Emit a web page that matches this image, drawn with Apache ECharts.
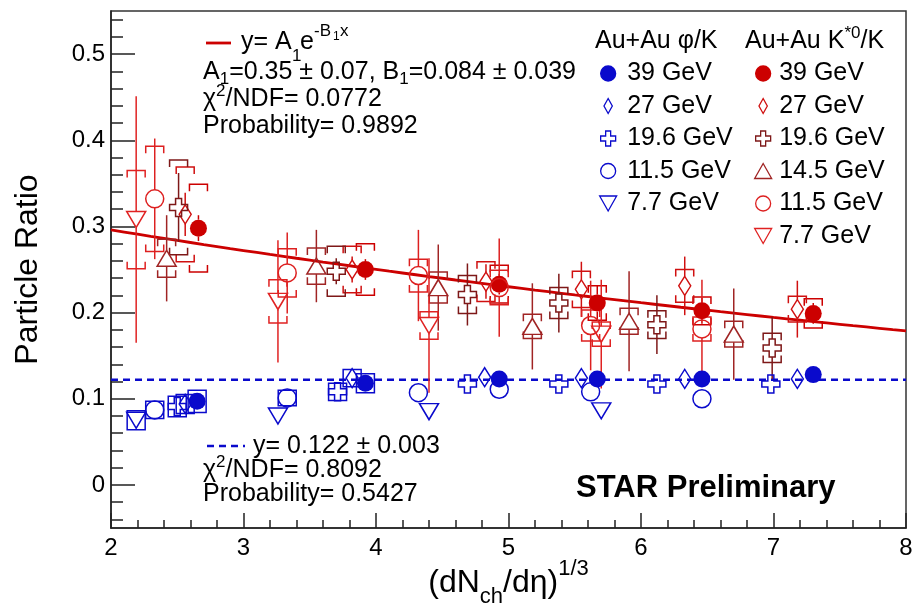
<!DOCTYPE html>
<html>
<head>
<meta charset="utf-8">
<script src="https://cdn.jsdelivr.net/npm/echarts@6.0.0/dist/echarts.min.js"></script>
<style>
  html, body { margin: 0; padding: 0; background: #ffffff; }
  #chart { width: 917px; height: 611px; }
</style>
</head>
<body>
<div id="chart"></div>
<script>
// Rows: [(dNch/deta)^(1/3), ratio, statistical error, systematic error]
const phiK_39 = [[2.65, 0.097, 0.004, 0.013], [3.92, 0.118, 0.003, 0.011], [4.93, 0.123, 0.003, 0], [5.67, 0.123, 0.003, 0], [6.46, 0.123, 0.003, 0], [7.30, 0.128, 0.003, 0]];
const phiK_27 = [[2.56, 0.094, 0.004, 0.011], [3.82, 0.124, 0.003, 0.010], [4.82, 0.125, 0.003, 0], [5.55, 0.124, 0.003, 0], [6.33, 0.123, 0.003, 0], [7.18, 0.123, 0.003, 0]];
const phiK_19 = [[2.50, 0.091, 0.004, 0.012], [3.71, 0.108, 0.003, 0.010], [4.69, 0.117, 0.003, 0], [5.38, 0.117, 0.003, 0], [6.12, 0.117, 0.003, 0], [6.98, 0.117, 0.003, 0]];
const phiK_11 = [[2.33, 0.087, 0.004, 0.010], [3.33, 0.101, 0.003, 0.009], [4.32, 0.107, 0.003, 0], [4.93, 0.111, 0.003, 0], [5.62, 0.108, 0.003, 0], [6.46, 0.100, 0.003, 0]];
const phiK_7 = [[2.19, 0.075, 0.005, 0.011], [3.26, 0.080, 0.004, 0], [4.40, 0.085, 0.004, 0], [5.70, 0.086, 0.004, 0]];

const kstK_39 = [[2.66, 0.298, 0.015, 0.051], [3.92, 0.250, 0.012, 0.030], [4.93, 0.233, 0.012, 0.022], [5.67, 0.211, 0.020, 0.020], [6.46, 0.202, 0.015, 0.016], [7.30, 0.199, 0.012, 0.017]];
const kstK_27 = [[2.56, 0.314, 0.025, 0.055], [3.82, 0.250, 0.015, 0.027], [4.83, 0.236, 0.020, 0.023], [5.55, 0.227, 0.032, 0.021], [6.33, 0.231, 0.034, 0.019], [7.18, 0.204, 0.033, 0.015]];
const kstK_19 = [[2.51, 0.322, 0.040, 0.055], [3.70, 0.248, 0.015, 0.029], [4.69, 0.221, 0.036, 0.022], [5.38, 0.211, 0.034, 0.018], [6.12, 0.186, 0.034, 0.016], [6.99, 0.159, 0.036, 0.017]];
const kstK_14 = [[2.42, 0.263, 0.050, 0.022], [3.55, 0.254, 0.042, 0.021], [4.47, 0.229, 0.050, 0.018], [5.18, 0.184, 0.050, 0.014], [5.91, 0.190, 0.058, 0.015], [6.70, 0.175, 0.053, 0.015]];
const kstK_11 = [[2.33, 0.332, 0.070, 0.061], [3.33, 0.246, 0.047, 0.028], [4.32, 0.243, 0.053, 0.019], [4.93, 0.229, 0.057, 0.020], [5.62, 0.185, 0.052, 0.018], [6.46, 0.181, 0.057, 0.014]];
const kstK_7 = [[2.19, 0.308, 0.143, 0.057], [3.26, 0.213, 0.071, 0.025], [4.40, 0.185, 0.078, 0.016], [5.70, 0.175, 0.063, 0.014]];

// Fit results quoted in the panel
const expFitA = 0.35;
const expFitB = 0.084;
const constFitLevel = 0.122;

// Axis ticks
const yMajorTicks = [0, 0.1, 0.2, 0.3, 0.4, 0.5];
const yMinorTicks = [-0.04, -0.02, 0.02, 0.04, 0.06, 0.08, 0.12, 0.14, 0.16, 0.18, 0.22, 0.24, 0.26, 0.28, 0.32, 0.34, 0.36, 0.38, 0.42, 0.44, 0.46, 0.48, 0.52, 0.54];

const FONT = '"Liberation Sans", Arial, Helvetica, sans-serif';
const BLUE = '#0a0acc';
const RED = '#cc0000';

const SYM = {
  cross: 'path://M1,0 L2,0 L2,1 L3,1 L3,2 L2,2 L2,3 L1,3 L1,2 L0,2 L0,1 L1,1 Z',
  diamond: 'path://M5,0 L10,9 L5,18 L0,9 Z',
  triUp: 'path://M8.5,0 L17,15 L0,15 Z',
  triDown: 'path://M0,0 L17,0 L8.5,15 Z'
};

const groups = [
  { name: 'φ/K 39 GeV', rows: phiK_39, color: BLUE, filled: true, symbol: 'circle', size: 17, half: 8.5, sys: 'box' },
  { name: 'φ/K 27 GeV', rows: phiK_27, color: BLUE, symbol: SYM.diamond, size: [12, 19], half: 9.5, sys: 'box' },
  { name: 'φ/K 19.6 GeV', rows: phiK_19, color: BLUE, symbol: SYM.cross, size: 18, half: 9, sys: 'box' },
  { name: 'φ/K 11.5 GeV', rows: phiK_11, color: BLUE, symbol: 'circle', size: 18, half: 9, sys: 'box' },
  { name: 'φ/K 7.7 GeV', rows: phiK_7, color: BLUE, symbol: SYM.triDown, size: [19, 16], half: 8, sys: 'box' },
  { name: 'K*0/K 39 GeV', rows: kstK_39, color: RED, filled: true, symbol: 'circle', size: 17, half: 8.5, sys: 'bracket' },
  { name: 'K*0/K 27 GeV', rows: kstK_27, color: '#d01010', symbol: SYM.diamond, size: [12, 19], half: 9.5, sys: 'bracket' },
  { name: 'K*0/K 19.6 GeV', rows: kstK_19, color: '#7e1818', symbol: SYM.cross, size: 18, half: 9, sys: 'bracket' },
  { name: 'K*0/K 14.5 GeV', rows: kstK_14, color: '#a02424', symbol: SYM.triUp, size: [19, 16], half: 8, sys: 'bracket' },
  { name: 'K*0/K 11.5 GeV', rows: kstK_11, color: '#dd2020', symbol: 'circle', size: 18, half: 9, sys: 'bracket' },
  { name: 'K*0/K 7.7 GeV', rows: kstK_7, color: '#e02222', symbol: SYM.triDown, size: [19, 16], half: 8, sys: 'bracket' }
];

// Stat bars leave a gap at the marker; systematics as boxes or [ ] brackets
function errorRenderer(color, half, sysStyle) {
  return function (params, api) {
    const x = api.value(0), y = api.value(1), st = api.value(2), sy = api.value(3);
    const c = api.coord([x, y]);
    const ls = { stroke: color, lineWidth: 1.5, fill: 'none' };
    const kids = [];
    if (st > 0) {
      const top = api.coord([x, y + st])[1];
      const bot = api.coord([x, y - st])[1];
      if (c[1] - half > top) kids.push({ type: 'line', shape: { x1: c[0], y1: top, x2: c[0], y2: c[1] - half }, style: ls });
      if (bot > c[1] + half) kids.push({ type: 'line', shape: { x1: c[0], y1: c[1] + half, x2: c[0], y2: bot }, style: ls });
    }
    if (sy > 0) {
      const top = api.coord([x, y + sy])[1];
      const bot = api.coord([x, y - sy])[1];
      if (sysStyle === 'box') {
        const w = 9;
        kids.push({ type: 'rect', shape: { x: c[0] - w, y: top, width: 2 * w, height: bot - top }, style: ls });
      } else {
        const w = 9, t = 7;
        kids.push({ type: 'polyline', shape: { points: [[c[0] - w, top + t], [c[0] - w, top], [c[0] + w, top], [c[0] + w, top + t]] }, style: ls });
        kids.push({ type: 'polyline', shape: { points: [[c[0] - w, bot - t], [c[0] - w, bot], [c[0] + w, bot], [c[0] + w, bot - t]] }, style: ls });
      }
    }
    return { type: 'group', children: kids };
  };
}

const series = [];

// Exponential fit to K*0/K and constant fit to phi/K
const expCurve = [];
for (let i = 0; i <= 60; i++) {
  const x = 2 + i * 0.1;
  expCurve.push([x, expFitA * Math.exp(-expFitB * x)]);
}
series.push({
  type: 'line', data: expCurve, showSymbol: false, silent: true, z: 2,
  lineStyle: { color: RED, width: 2.8 }, emphasis: { disabled: true }
});
series.push({
  type: 'line', data: [[2, constFitLevel], [8, constFitLevel]], showSymbol: false, silent: true, z: 2,
  lineStyle: { color: BLUE, width: 2.5, type: [7, 5] }, emphasis: { disabled: true }
});

groups.forEach(g => {
  series.push({
    type: 'custom', data: g.rows, encode: { x: 0, y: 1 }, clip: true, silent: true, z: 3,
    renderItem: errorRenderer(g.color, g.half, g.sys)
  });
});
groups.forEach(g => {
  series.push({
    type: 'scatter', name: g.name, data: g.rows.map(r => [r[0], r[1]]),
    symbol: g.symbol, symbolSize: g.size, symbolKeepAspect: false, silent: true, z: 4,
    itemStyle: {
      color: g.filled ? g.color : 'rgba(0,0,0,0)',
      borderColor: g.color, borderWidth: g.filled ? 0 : 1.5, opacity: 1
    },
    emphasis: { disabled: true }
  });
});

const legendText = { fontSize: 25, fontFamily: FONT, color: '#000' };
const stripPrefix = n => n.replace(/^\S+ /, '');

const txt = (x, y, text, size, extra) => Object.assign({
  type: 'text', x: x, y: y, silent: true,
  style: Object.assign({ text: text, fontSize: size, fontFamily: FONT, fill: '#000', align: 'left', verticalAlign: 'middle', textAlign: 'left', textVerticalAlign: 'middle' }, (extra && extra.style) || {})
}, extra && extra.el ? extra.el : {});

const richBase = {
  n: { fontSize: 25, fontFamily: FONT, color: '#000', lineHeight: 32, verticalAlign: 'middle' },
  s: { fontSize: 17, fontFamily: FONT, color: '#000', lineHeight: 17, verticalAlign: 'bottom' },
  p: { fontSize: 17, fontFamily: FONT, color: '#000', lineHeight: 17, verticalAlign: 'top' }
};
const richTxt = (x, y, text) => ({
  type: 'text', x: x, y: y, silent: true,
  style: { text: text, rich: richBase, fontSize: 25, fontFamily: FONT, fill: '#000', align: 'left', verticalAlign: 'middle', textAlign: 'left', textVerticalAlign: 'middle' }
});

const graphics = [
  // exponential fit label
  { type: 'line', silent: true, shape: { x1: 206, y1: 43, x2: 231, y2: 43 }, style: { stroke: RED, lineWidth: 2.8 } },
  txt(241, 42, 'y= A', 25),
  txt(292, 56, '1', 17),
  txt(300, 42, 'e', 25),
  txt(314, 31, '-B', 17),
  txt(333, 37, '1', 12),
  txt(340, 31, 'x', 17),
  richTxt(203, 72, '{n|A}{s|1}{n|=0.35 ± 0.07, B}{s|1}{n|=0.084 ± 0.039}'),
  richTxt(203, 99, '{n|χ}{p|2}{n|/NDF= 0.0772}'),
  txt(203, 126, 'Probability= 0.9892', 25),
  // constant fit label
  { type: 'line', silent: true, shape: { x1: 207, y1: 446, x2: 245, y2: 446 }, style: { stroke: BLUE, lineWidth: 2.5, lineDash: [7, 5] } },
  txt(253, 446, 'y= 0.122 ± 0.003', 25),
  richTxt(203, 470, '{n|χ}{p|2}{n|/NDF= 0.8092}'),
  txt(203, 494, 'Probability= 0.5427', 25),
  // legend column headers
  txt(595, 41, 'Au+Au φ/K', 25),
  richTxt(745, 41, '{n|Au+Au K}{p|*0}{n|/K}'),
  // label
  txt(576, 488, 'STAR Preliminary', 31, { style: { fontWeight: 'bold' } })
];

const chart = echarts.init(document.getElementById('chart'), null, { renderer: 'canvas' });
chart.setOption({
  animation: false,
  backgroundColor: '#ffffff',
  textStyle: { fontFamily: FONT },
  grid: {
    left: 111, right: 11, top: 11, bottom: 83,
    show: true, borderColor: '#333', borderWidth: 1.5, backgroundColor: 'transparent',
    containLabel: false, outerBoundsMode: 'none'
  },
  legend: [
    {
      data: groups.slice(0, 5).map(g => g.name), left: 599, top: 61, orient: 'vertical', padding: 0,
      itemWidth: 28, itemHeight: 15, itemGap: 7.5, selectedMode: false, formatter: stripPrefix,
      textStyle: legendText, itemStyle: { borderWidth: 1.3 }
    },
    {
      data: groups.slice(5).map(g => g.name), left: 754, top: 61, orient: 'vertical', padding: 0,
      itemWidth: 22, itemHeight: 15, itemGap: 7.5, selectedMode: false, formatter: stripPrefix,
      textStyle: legendText, itemStyle: { borderWidth: 1.3 }
    }
  ],
  xAxis: {
    type: 'value', min: 2, max: 8, interval: 1,
    axisLine: { show: true, onZero: false, lineStyle: { color: '#222', width: 1.5 } },
    axisTick: { show: true, inside: true, length: 15, lineStyle: { color: '#222', width: 1.5 } },
    minorTick: { show: true, splitNumber: 5, length: 8, lineStyle: { color: '#222', width: 1.5 } },
    axisLabel: { fontSize: 24, color: '#000', margin: 8, fontFamily: FONT },
    splitLine: { show: false }, minorSplitLine: { show: false },
    name: '{a|(dN}{b|ch}{a|/dη)}{c|1/3}', nameLocation: 'middle', nameGap: 30, nameMoveOverlap: false,
    nameTextStyle: {
      rich: {
        a: { fontSize: 32, fontFamily: FONT, color: '#000', lineHeight: 50, verticalAlign: 'middle' },
        b: { fontSize: 22, fontFamily: FONT, color: '#000', lineHeight: 22, verticalAlign: 'bottom' },
        c: { fontSize: 22, fontFamily: FONT, color: '#000', lineHeight: 16, verticalAlign: 'top' }
      }
    }
  },
  yAxis: [
    {
      type: 'value', min: -0.05, max: 0.55,
      axisLine: { show: true, onZero: false, lineStyle: { color: '#222', width: 1.5 } },
      axisTick: { show: true, inside: true, length: 24, customValues: yMajorTicks, lineStyle: { color: '#222', width: 1.5 } },
      axisLabel: { customValues: yMajorTicks, fontSize: 24, color: '#000', margin: 6, fontFamily: FONT, formatter: v => (v === 0 ? '0' : v.toFixed(1)) },
      splitLine: { show: false },
      name: 'Particle Ratio', nameLocation: 'middle', nameGap: 67, nameRotate: 90, nameMoveOverlap: false,
      nameTextStyle: { fontSize: 32, color: '#000', fontFamily: FONT }
    },
    {
      type: 'value', min: -0.05, max: 0.55, position: 'left', offset: 0,
      axisLine: { show: false },
      axisTick: { show: true, inside: true, length: 12, customValues: yMinorTicks, lineStyle: { color: '#222', width: 1.5 } },
      axisLabel: { show: false }, splitLine: { show: false }
    }
  ],
  series: series,
  graphic: { elements: graphics }
});
</script>
</body>
</html>
